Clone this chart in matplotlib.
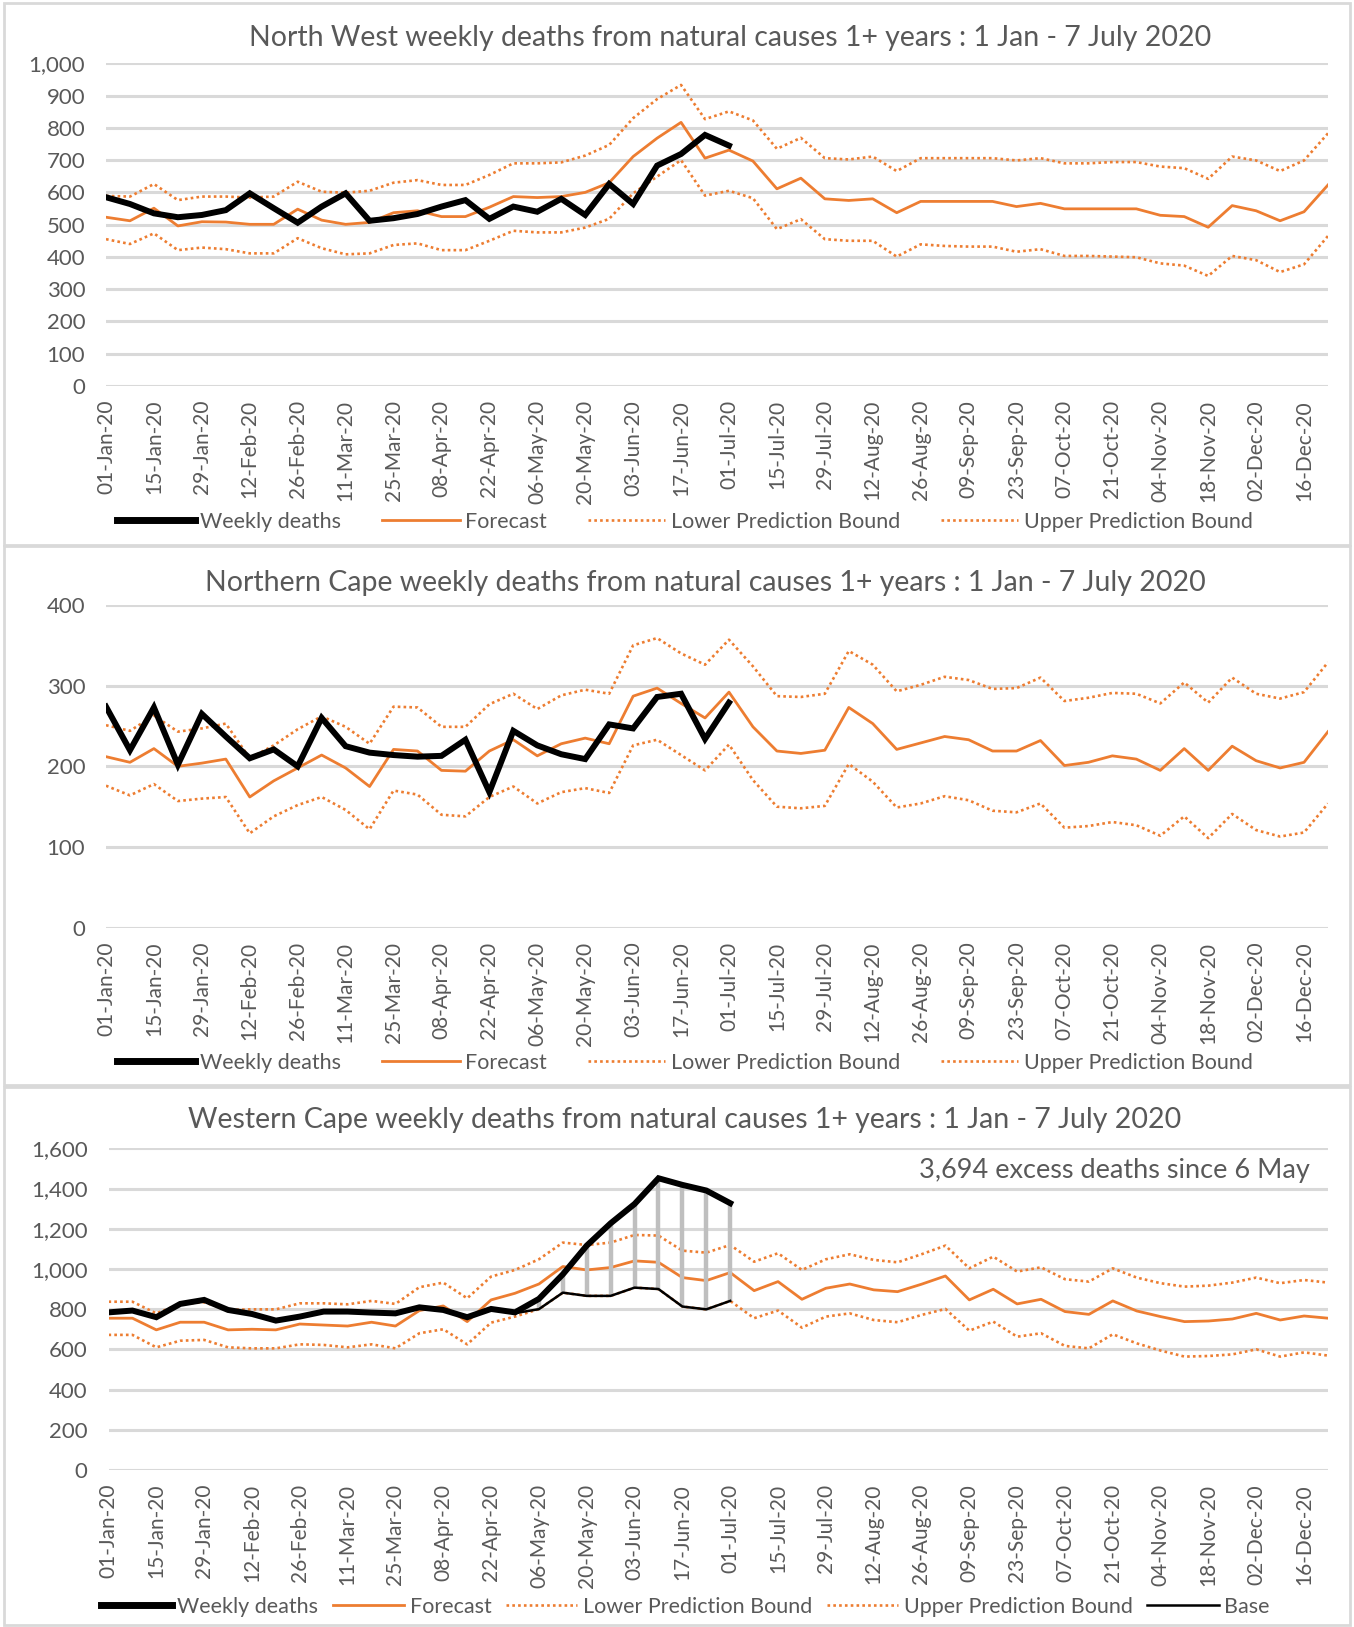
import matplotlib
matplotlib.use("Agg")
import matplotlib.pyplot as plt
from matplotlib.patches import Rectangle
from matplotlib.lines import Line2D
import numpy as np

plt.rcParams['font.family'] = ['Lato', 'DejaVu Sans']

# ---------------- data ----------------
tick_labels = ["01-Jan-20", "15-Jan-20", "29-Jan-20", "12-Feb-20", "26-Feb-20", "11-Mar-20",
               "25-Mar-20", "08-Apr-20", "22-Apr-20", "06-May-20", "20-May-20", "03-Jun-20",
               "17-Jun-20", "01-Jul-20", "15-Jul-20", "29-Jul-20", "12-Aug-20", "26-Aug-20",
               "09-Sep-20", "23-Sep-20", "07-Oct-20", "21-Oct-20", "04-Nov-20", "18-Nov-20",
               "02-Dec-20", "16-Dec-20"]
n_weeks = 52

# North West
nw_deaths = [585, 564, 535, 523, 530, 545, 597, 551, 506, 556, 597, 512, 520, 533, 556, 576,
             518, 556, 540, 580, 530, 626, 564, 683, 719, 778, 745]
nw_forecast = [523, 512, 551, 496, 509, 508, 501, 501, 548, 514, 501, 507, 537, 543, 525, 525,
               554, 587, 584, 587, 600, 630, 711, 768, 817, 706, 731, 697, 611, 644, 580, 575,
               580, 537, 572, 572, 572, 572, 556, 566, 549, 549, 549, 549, 529, 525, 492, 559,
               543, 512, 540, 623]
nw_upper = [589, 587, 626, 576, 587, 587, 584, 587, 633, 602, 599, 605, 630, 638, 623, 623,
            654, 690, 690, 693, 714, 747, 830, 889, 933, 827, 851, 823, 735, 769, 706, 702,
            711, 666, 706, 706, 706, 706, 699, 706, 690, 690, 694, 694, 680, 675, 642, 711,
            699, 666, 699, 783]
nw_lower = [455, 440, 473, 421, 429, 424, 411, 411, 458, 427, 408, 411, 437, 442, 421, 421,
            450, 481, 476, 476, 491, 518, 597, 649, 700, 590, 605, 582, 486, 517, 455, 450,
            450, 401, 439, 434, 432, 432, 416, 424, 403, 403, 401, 399, 380, 373, 341, 403,
            390, 353, 377, 465]

# Northern Cape
nc_deaths = [274, 220, 273, 202, 265, 237, 210, 221, 200, 260, 225, 217, 214, 212, 213, 233,
             168, 244, 226, 215, 209, 252, 247, 286, 290, 234, 279]
nc_forecast = [212, 205, 222, 200, 204, 209, 162, 182, 198, 214, 198, 175, 221, 219, 195, 194,
               219, 233, 213, 228, 235, 228, 287, 297, 278, 260, 292, 249, 219, 216, 220, 273,
               253, 221, 229, 237, 233, 219, 219, 232, 201, 205, 213, 209, 195, 222, 195, 225,
               207, 198, 205, 243]
nc_upper = [251, 244, 263, 243, 247, 253, 210, 226, 246, 262, 249, 228, 274, 273, 249, 249,
            277, 290, 271, 288, 295, 290, 350, 359, 340, 326, 357, 324, 287, 286, 290, 343,
            326, 293, 301, 311, 307, 296, 297, 310, 281, 285, 291, 290, 278, 304, 279, 310,
            290, 284, 292, 329]
nc_lower = [176, 164, 178, 157, 160, 162, 117, 138, 152, 162, 146, 122, 170, 165, 140, 138,
            162, 175, 154, 168, 173, 167, 226, 233, 214, 195, 227, 183, 150, 148, 151, 203,
            181, 149, 154, 163, 158, 145, 143, 154, 124, 126, 131, 127, 114, 138, 111, 141,
            121, 113, 118, 154]

# Western Cape
wc_deaths = [784, 793, 760, 826, 846, 796, 776, 743, 763, 788, 788, 783, 779, 809, 796, 760,
             801, 784, 851, 973, 1116, 1227, 1323, 1451, 1418, 1390, 1327]
wc_forecast = [755, 755, 697, 735, 735, 697, 700, 697, 726, 721, 716, 735, 716, 793, 816, 738,
               846, 879, 925, 1012, 995, 1007, 1040, 1033, 957, 942, 982, 892, 937, 849, 904, 925,
               896, 887, 924, 965, 846, 899, 826, 849, 788, 774, 841, 791, 763, 738, 741, 751,
               779, 746, 766, 755]
wc_upper = [837, 837, 779, 826, 834, 796, 799, 799, 829, 829, 824, 841, 826, 909, 932, 854,
            962, 995, 1048, 1131, 1119, 1131, 1169, 1166, 1091, 1081, 1119, 1036, 1078, 995, 1048,
            1073, 1045, 1033, 1073, 1116, 1003, 1061, 987, 1008, 949, 937, 1003, 957, 929, 912,
            917, 932, 957, 929, 945, 932]
wc_lower = [672, 672, 610, 643, 647, 610, 605, 605, 625, 622, 610, 625, 605, 680, 700, 625,
            733, 763, 800, 882, 866, 866, 907, 900, 813, 799, 841, 755, 793, 708, 763, 779,
            746, 735, 771, 801, 693, 738, 663, 680, 617, 605, 675, 630, 594, 564, 567, 575,
            600, 564, 585, 569]
wc_base_start = 17
wc_base = [780, 800, 882, 866, 866, 907, 900, 813, 799, 841]
annotation = "3,694 excess deaths since 6 May"

# ---------------- style ----------------
ORANGE = "#ED7D31"
GRID = "#D9D9D9"
TXT = "#595959"
W, H = 1354, 1627

fig = plt.figure(figsize=(W / 100, H / 100), dpi=100)
fig.patch.set_facecolor("white")


def fx(px):
    return px / W


def fy(py):
    return 1 - py / H


# panel borders
for top, bot in [(3, 545), (546, 1085), (1087, 1625)]:
    fig.patches.append(Rectangle((fx(4), fy(bot)), fx(1350) - fx(4), fy(top) - fy(bot),
                                 transform=fig.transFigure, fill=False,
                                 edgecolor=GRID, lw=2, zorder=0))


def make_panel(left, right, top, bottom, ymax, ystep, title, tpos,
               deaths, fc, up, lo, legend_y, base=None, base_start=None, ann=None):
    ax = fig.add_axes([fx(left), fy(bottom), fx(right) - fx(left), fy(top) - fy(bottom)])
    x = np.arange(n_weeks)
    ax.plot(x[:len(lo)], lo, color=ORANGE, lw=1.9, ls=(0, (1, 1.2)), zorder=3)
    ax.plot(x[:len(up)], up, color=ORANGE, lw=1.9, ls=(0, (1, 1.2)), zorder=3)
    ax.plot(x[:len(fc)], fc, color=ORANGE, lw=2.0, zorder=4)
    if base is not None:
        xb = x[base_start:base_start + len(base)]
        actual = np.array(deaths)[base_start:base_start + len(base)]
        ax.vlines(xb, base, actual, color="#BFBFBF", lw=3.2, zorder=5)
        ax.plot(xb, base, color="black", lw=1.8, zorder=6)
    ax.plot(x[:len(deaths)], deaths, color="black", lw=4.3, zorder=7,
            solid_joinstyle="miter")
    ax.set_xlim(0, n_weeks - 1)
    ax.set_ylim(0, ymax)
    yt = np.arange(0, ymax + 1, ystep)
    ax.set_yticks(yt)
    ax.set_yticklabels([f"{v:,}" for v in yt], fontsize=16, color=TXT)
    ax.set_xticks(np.arange(0, n_weeks, 2))
    ax.set_xticklabels(tick_labels, rotation=90, fontsize=15, color=TXT)
    ax.tick_params(length=0)
    ax.tick_params(axis="y", pad=15)
    ax.tick_params(axis="x", pad=10)
    for s in ax.spines.values():
        s.set_visible(False)
    ax.grid(axis="y", color=GRID, lw=2.2)
    ax.set_axisbelow(True)
    ax.patch.set_alpha(0)
    fig.text(fx(tpos[0]), fy(tpos[1]), title, ha="center", va="center",
             fontsize=20.5, color=TXT)
    if ann:
        ax.text(0.985, 0.93, ann, transform=ax.transAxes, ha="right", va="center",
                fontsize=19.5, color=TXT)
    handles = [Line2D([], [], color="black", lw=5),
               Line2D([], [], color=ORANGE, lw=2),
               Line2D([], [], color=ORANGE, lw=1.9, ls=(0, (1, 1.2))),
               Line2D([], [], color=ORANGE, lw=1.9, ls=(0, (1, 1.2)))]
    labels = ["Weekly deaths", "Forecast", "Lower Prediction Bound", "Upper Prediction Bound"]
    if base is not None:
        handles.append(Line2D([], [], color="black", lw=1.8))
        labels.append("Base")
    fig.legend(handles, labels, loc="center", bbox_to_anchor=(fx(685), fy(legend_y)),
               ncol=len(labels), frameon=False, fontsize=15.5,
               handlelength=3.6 if base is None else 3.3,
               handletextpad=0.25, columnspacing=1.9 if base is None else 0.7,
               labelcolor=TXT)
    return ax


make_panel(106, 1328, 63.3, 386, 1000, 100,
           "North West weekly deaths from natural causes 1+ years : 1 Jan - 7 July 2020",
           (730, 38), nw_deaths, nw_forecast, nw_upper, nw_lower, 522)
make_panel(106, 1328, 605, 927.7, 400, 100,
           "Northern Cape weekly deaths from natural causes 1+ years : 1 Jan - 7 July 2020",
           (705, 583), nc_deaths, nc_forecast, nc_upper, nc_lower, 1063)
make_panel(108.5, 1328, 1148.3, 1470, 1600, 200,
           "Western Cape weekly deaths from natural causes 1+ years : 1 Jan - 7 July 2020",
           (685, 1120), wc_deaths, wc_forecast, wc_upper, wc_lower, 1607,
           base=wc_base, base_start=wc_base_start, ann=annotation)

fig.savefig("out.png", dpi=100)
